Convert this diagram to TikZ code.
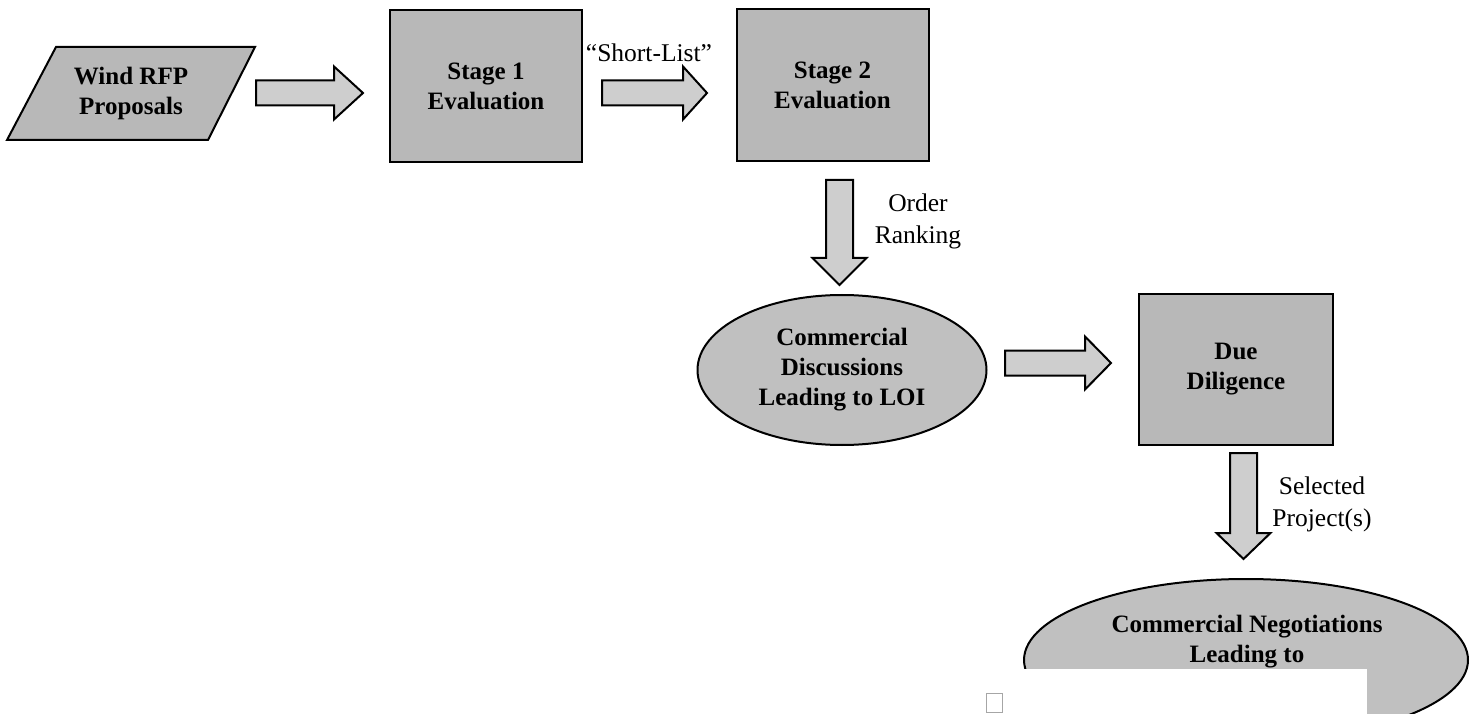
\documentclass[tikz,border=0pt]{standalone}
\usepackage{fontspec}
\setmainfont{Liberation Serif}
\usetikzlibrary{shapes.geometric}
\definecolor{boxfill}{HTML}{B8B8B8}
\definecolor{ellfill}{HTML}{C0C0C0}
\definecolor{arrfill}{HTML}{CECECE}
\newcommand\blockR[4]{%
  \draw[barrow] (#1,#4-12.5) -- (#2,#4-12.5) -- (#2,#4-26.5) -- (#3,#4)
    -- (#2,#4+26.5) -- (#2,#4+12.5) -- (#1,#4+12.5) -- cycle;}
\newcommand\blockD[4]{%
  \draw[barrow] (#1-13.5,#2) -- (#1-13.5,#3) -- (#1-27,#3) -- (#1,#4)
    -- (#1+27,#3) -- (#1+13.5,#3) -- (#1+13.5,#2) -- cycle;}
\begin{document}
\begin{tikzpicture}[x=1pt,y=-1pt,
  boxtext/.style={font=\fontsize{25}{30}\selectfont\bfseries, align=center},
  lbl/.style={font=\fontsize{25.5}{32}\selectfont, align=center},
  stagebox/.style={draw, line width=2pt, fill=boxfill, minimum width=192pt,
    minimum height=152pt, inner sep=0pt, boxtext},
  oval/.style={ellipse, draw, line width=2pt, fill=ellfill, inner sep=0pt, boxtext},
  barrow/.style={draw, line width=2pt, fill=arrfill, line join=miter}]
\useasboundingbox (0,0) rectangle (1476,714);
\clip (0,0) rectangle (1476,714);
\fill[white] (0,0) rectangle (1476,714);

% Wind RFP parallelogram
\draw[line width=2pt, fill=boxfill] (56,47) -- (255,47) -- (208,140) -- (7,140) -- cycle;
\node[boxtext] (wind) at (131,93) {Wind RFP\\Proposals};

% boxes
\node[stagebox] (s1) at (486,86) {Stage 1\\Evaluation};
\node[stagebox] (s2) at (832.5,85) {Stage 2\\Evaluation};
\node[stagebox, minimum width=194pt, minimum height=151pt] (dd) at (1236,369.5) {Due\\Diligence};

% ellipses
\node[oval, minimum width=289pt, minimum height=150pt] (cd) at (842,370)
  {Commercial\\Discussions\\Leading to LOI};
\node[oval, minimum width=444pt, minimum height=162pt] (cn) at (1246,660) {};
\node[boxtext] (cntext) at (1247,642) {Commercial Negotiations\\Leading to};

% block arrows
\blockR{256}{334}{363}{93}
\blockR{602}{683}{707}{93}
\blockR{1005}{1085}{1111}{363}
\blockD{839.5}{180}{258}{285}
\blockD{1243.5}{453}{533}{559}

% labels
\node[lbl, anchor=base] (short) at (649,62) {“Short-List”};
\node[lbl] (order) at (918,221) {Order\\Ranking};
\node[lbl] (sel) at (1322,504) {Selected\\Project(s)};

% white cover and small square
\fill[white] (1012,669) rectangle (1367,720);
\draw[gray!70, line width=1pt] (986.5,693.5) rectangle (1002.5,712.5);
\end{tikzpicture}
\end{document}
